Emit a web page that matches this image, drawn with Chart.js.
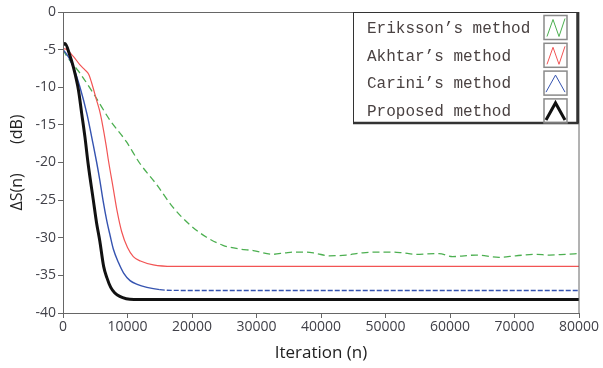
<!DOCTYPE html>
<html>
<head>
<meta charset="utf-8">
<script src="https://cdn.jsdelivr.net/npm/chart.js@4.4.1/dist/chart.umd.min.js"></script>
<style>
  html, body { margin: 0; padding: 0; background: #fff; }
  #wrap { width: 603px; height: 368px; }
</style>
</head>
<body>
<div id="wrap"><canvas id="chart" width="603" height="368"></canvas></div>
<script>
const xTicks = [0, 10000, 20000, 30000, 40000, 50000, 60000, 70000, 80000];
const yTicks = [0, -5, -10, -15, -20, -25, -30, -35, -40];

const seriesNames = ["Eriksson’s method", "Akhtar’s method", "Carini’s method", "Proposed method"];
const seriesColors = ["#4caf50", "#f25454", "#3553b0", "#111111"];

// Eriksson (green, dashed, noisy floor)
const erikssonX = [0, 600, 2600, 4700, 7300, 9800, 11900, 14400, 17000, 19700, 22200, 24800, 27400, 29500,
  32500, 34500, 36000, 37800, 39300, 41300, 43900, 46500, 49000, 51000, 52600, 54700, 58300, 60400,
  64000, 67600, 70200, 73300, 75400, 77900, 80000];
const erikssonY = [-5.0, -5.9, -8.1, -10.8, -14.4, -17.2, -20.1, -22.8, -25.9, -28.3, -29.9, -31.0, -31.5, -31.7,
  -32.2, -32.0, -31.9, -31.9, -32.1, -32.4, -32.3, -32.0, -31.9, -31.9, -32.0, -32.2, -32.1, -32.5,
  -32.3, -32.6, -32.4, -32.2, -32.3, -32.2, -32.1];

// Akhtar (red)
const akhtarX = [0, 300, 1600, 2600, 3400, 4000, 4400, 5200, 5700, 6000, 6700, 7000, 7800, 8400, 9100, 10000,
  10900, 12000, 14000, 17000, 30000, 50000, 80000];
const akhtarY = [-4.9, -4.9, -5.9, -7.0, -7.7, -8.3, -9.3, -11.7, -13.2, -14.4, -17.8, -19.5, -23.5, -26.5, -29.2, -31.3,
  -32.5, -33.1, -33.6, -33.8, -33.8, -33.8, -33.8];

// Carini (blue, dashed after convergence)
const cariniX = [0, 300, 1000, 1600, 2600, 3700, 4700, 5200, 5700, 6200, 6800, 7300, 7800, 8600, 9400, 10400,
  11500, 13000, 15000, 18000, 40000, 80000];
const cariniY = [-5.0, -5.3, -6.2, -7.3, -9.9, -13.5, -17.7, -19.9, -22.3, -25.0, -27.8, -29.7, -31.5, -33.3, -34.7, -35.7,
  -36.2, -36.6, -36.9, -37.0, -37.0, -37.0];

// Proposed (black, thick)
const proposedX = [0, 300, 1000, 1600, 2400, 2900, 3400, 3900, 4700, 5200, 5700, 6300, 6800, 7400, 8000, 8800,
  9800, 11000, 20000, 50000, 80000];
const proposedY = [-4.4, -4.2, -5.6, -7.3, -10.4, -13.5, -16.6, -20.2, -25.0, -28.0, -30.4, -33.8, -35.3, -36.6, -37.3, -37.8,
  -38.1, -38.2, -38.2, -38.2, -38.2];

const toPoints = (xs, ys) => xs.map((x, i) => ({ x, y: ys[i] }));

// boxed legend drawn in the upper right corner of the plot
const legendBox = {
  id: "legendBox",
  afterDraw(chart) {
    const ctx = chart.ctx;
    const { left: pl, right, top, bottom } = chart.chartArea;

    ctx.save();
    ctx.strokeStyle = "#666";
    ctx.lineWidth = 1;
    ctx.strokeRect(pl + 0.5, top + 0.5, right - pl - 0.5, bottom - top);

    const w = 226, h = 110;
    const left = right - w;
    ctx.fillStyle = "#fff";
    ctx.fillRect(left, top, w, h);
    ctx.strokeStyle = "#333";
    ctx.lineWidth = 1;
    ctx.strokeRect(left + 0.5, top + 0.5, w - 1, h);
    ctx.lineWidth = 2.5;
    ctx.beginPath();
    ctx.moveTo(right - 1.5, top);
    ctx.lineTo(right - 1.5, top + h + 1);
    ctx.lineTo(left, top + h + 1);
    ctx.stroke();

    ctx.font = "16px 'Liberation Mono', monospace";
    ctx.textBaseline = "middle";
    ctx.textAlign = "left";
    seriesNames.forEach((name, i) => {
      const cy = top + 15.5 + i * 27.8;
      ctx.fillStyle = "#4a4242";
      ctx.fillText(name, left + 14, cy + 1);

      const sx = right - 35, sy = cy - 12;
      ctx.strokeStyle = "#8a8a8a";
      ctx.lineWidth = 1.5;
      ctx.strokeRect(sx, sy, 23, 24);

      ctx.strokeStyle = seriesColors[i];
      ctx.lineWidth = i === 3 ? 3 : 1;
      ctx.beginPath();
      if (i < 2) {
        ctx.moveTo(sx + 3, sy + 21);
        ctx.lineTo(sx + 9, sy + 4);
        ctx.lineTo(sx + 15, sy + 21);
        ctx.lineTo(sx + 21, sy + 3);
      } else {
        ctx.moveTo(sx + 2, sy + 21);
        ctx.lineTo(sx + 11.5, sy + 4);
        ctx.lineTo(sx + 21, sy + 21);
      }
      ctx.stroke();
    });
    ctx.restore();
  },
};

const tickFont = { family: "'Open Sans', sans-serif", size: 14 };

new Chart(document.getElementById("chart"), {
  type: "line",
  data: {
    datasets: [
      {
        label: seriesNames[0],
        data: toPoints(erikssonX, erikssonY),
        borderColor: seriesColors[0],
        borderWidth: 1.3,
        borderDash: [7, 4],
        order: 3,
      },
      {
        label: seriesNames[1],
        data: toPoints(akhtarX, akhtarY),
        borderColor: seriesColors[1],
        borderWidth: 1.2,
        order: 2,
      },
      {
        label: seriesNames[2],
        data: toPoints(cariniX, cariniY),
        borderColor: seriesColors[2],
        borderWidth: 1.4,
        segment: {
          borderDash: (c) => (c.p0.parsed.x >= 14000 ? [5, 2] : undefined),
        },
        order: 1,
      },
      {
        label: seriesNames[3],
        data: toPoints(proposedX, proposedY),
        borderColor: seriesColors[3],
        borderWidth: 3,
        order: 0,
      },
    ],
  },
  options: {
    responsive: false,
    animation: false,
    layout: { padding: { left: 0, top: 12, right: 24, bottom: 0 } },
    elements: {
      point: { radius: 0 },
      line: { cubicInterpolationMode: "monotone", fill: false },
    },
    plugins: { legend: { display: false }, tooltip: { enabled: false } },
    scales: {
      x: {
        type: "linear",
        min: 0,
        max: 80000,
        afterFit: (s) => { s.height = 55; },
        afterBuildTicks: (s) => { s.ticks = xTicks.map((v) => ({ value: v })); },
        ticks: { font: tickFont, color: "#404048", padding: 1, maxRotation: 0, callback: (v) => String(v) },
        grid: { drawOnChartArea: false, tickLength: 5, color: "#666" },
        border: { color: "#666" },
        title: {
          display: true, text: "Iteration (n)", color: "#222",
          font: { family: "'Open Sans', sans-serif", size: 17 }, padding: { top: 2, bottom: 5 },
        },
      },
      y: {
        min: -40,
        max: 0,
        afterFit: (s) => { s.width = 63; },
        afterBuildTicks: (s) => { s.ticks = yTicks.map((v) => ({ value: v })); },
        ticks: { font: tickFont, color: "#404048", padding: 2, callback: (v) => String(v) },
        grid: { drawOnChartArea: false, tickLength: 5, color: "#666" },
        border: { color: "#666" },
        title: {
          display: true, text: "ΔS(n)       (dB)", color: "#222",
          font: { family: "'Open Sans', sans-serif", size: 16 }, padding: { top: 8, bottom: 0 },
        },
      },
    },
  },
  plugins: [legendBox],
});
</script>
</body>
</html>
